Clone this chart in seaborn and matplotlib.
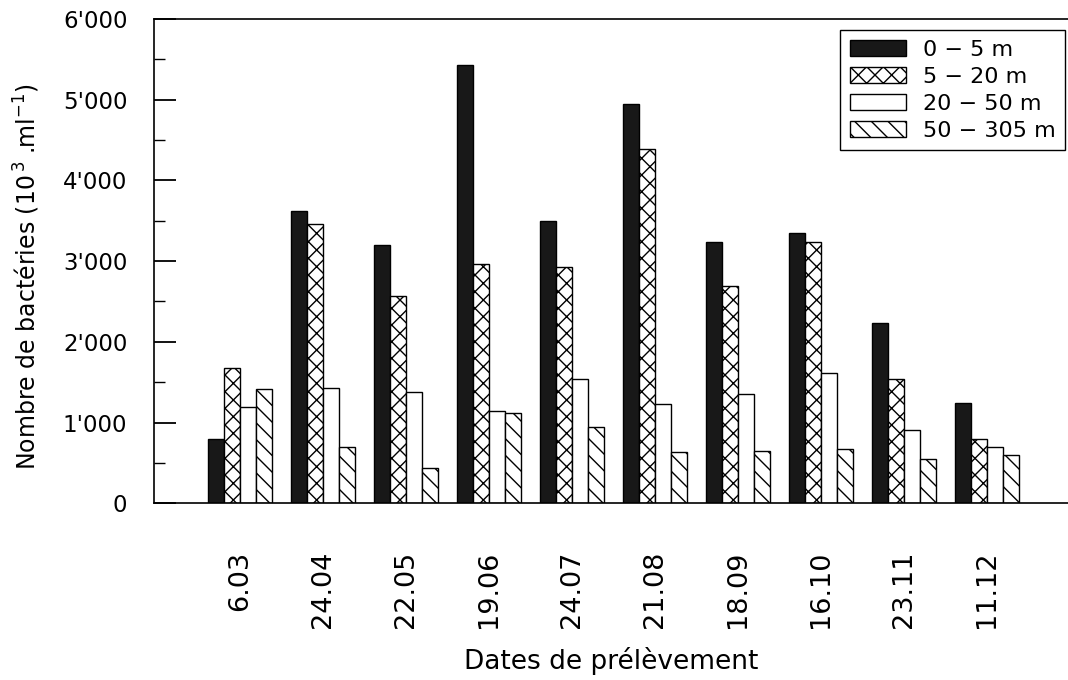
import numpy as np
import pandas as pd
import matplotlib
matplotlib.use("Agg")
import matplotlib.pyplot as plt
import matplotlib.patches as mpatches
from matplotlib.ticker import MultipleLocator, FixedLocator
import seaborn as sns

dates = ["6.03", "24.04", "22.05", "19.06", "24.07", "21.08", "18.09", "16.10", "23.11", "11.12"]
layers = ["0 − 5 m", "5 − 20 m", "20 − 50 m", "50 − 305 m"]
v_0_5 = [793, 3626, 3201, 5428, 3502, 4948, 3242, 3346, 2238, 1239]
v_5_20 = [1680, 3457, 2569, 2962, 2932, 4386, 2693, 3234, 1537, 797]
v_20_50 = [1197, 1425, 1383, 1144, 1540, 1227, 1354, 1618, 908, 694]
v_50_305 = [1420, 701, 441, 1115, 949, 632, 652, 677, 545, 602]
ytick_vals = [0, 1000, 2000, 3000, 4000, 5000, 6000]
ytick_labels = ["0", "1'000", "2'000", "3'000", "4'000", "5'000", "6'000"]

series = [v_0_5, v_5_20, v_20_50, v_50_305]
df = pd.DataFrame({
    "date": np.repeat([dates], len(layers), axis=0).ravel(),
    "layer": np.repeat(layers, len(dates)),
    "value": np.concatenate(series),
})

sns.set_theme(style="white")
plt.rcParams["font.family"] = ["DejaVu Sans"]
plt.rcParams["hatch.linewidth"] = 1.0
plt.rcParams["hatch.color"] = "black"
plt.rcParams["text.color"] = "black"
plt.rcParams["axes.labelcolor"] = "black"
plt.rcParams["xtick.color"] = "black"
plt.rcParams["ytick.color"] = "black"

facecolors = ["#181818", "white", "white", "white"]
hatches = ["", "xx", "", "\\\\"]

fig = plt.figure(figsize=(10.68, 6.8), dpi=100)
ax = fig.add_axes([0.144, 0.26, 0.856, 0.712])

sns.barplot(data=df, x="date", y="value", hue="layer", order=dates, hue_order=layers,
            palette=facecolors, saturation=1, width=0.77, edgecolor="black",
            linewidth=1.0, legend=False, ax=ax)

for cont, fc, h in zip(ax.containers, facecolors, hatches):
    for p in cont.patches:
        p.set_facecolor(fc)
        p.set_hatch(h)
        p.set_edgecolor("black")

ax.set_ylim(0, 6000)
ax.set_xlim(-1.04, 9.98)

ax.yaxis.set_major_locator(FixedLocator(ytick_vals))
ax.set_yticklabels(ytick_labels)
ax.yaxis.set_minor_locator(MultipleLocator(500))
ax.tick_params(axis="y", which="major", direction="in", length=16, width=1.3,
               pad=19, labelsize=16.5, colors="black", left=True)
ax.tick_params(axis="y", which="minor", direction="in", length=8, width=1.0, left=True)
ax.tick_params(axis="x", which="both", length=0, pad=34, labelsize=19.5,
               labelrotation=90, colors="black")

for lab in ax.get_xticklabels():
    lab.set_verticalalignment("top")

for s in ["left", "bottom", "top"]:
    ax.spines[s].set_visible(True)
    ax.spines[s].set_color("black")
    ax.spines[s].set_linewidth(1.2)
ax.spines["right"].set_visible(False)

ax.set_xlabel("Dates de prélèvement", fontsize=19, labelpad=14)
ax.set_ylabel("Nombre de bactéries (10$^{\\,3}$ .ml$^{-1}$)", fontsize=17)
ax.yaxis.set_label_coords(-0.1225, 0.467)

handles = [mpatches.Patch(facecolor=fc, edgecolor="black", hatch=h, linewidth=1.0)
           for fc, h in zip(facecolors, hatches)]
leg = ax.legend(handles, layers, loc="upper right", bbox_to_anchor=(0.9967, 0.977),
                borderaxespad=0, fontsize=16, frameon=True, fancybox=False,
                handlelength=2.55, handleheight=0.72, labelspacing=0.32,
                handletextpad=0.75, borderpad=0.42)
leg.get_frame().set_edgecolor("black")
leg.get_frame().set_linewidth(1.0)
leg.get_frame().set_alpha(1)

fig.savefig("out.png", dpi=100)
